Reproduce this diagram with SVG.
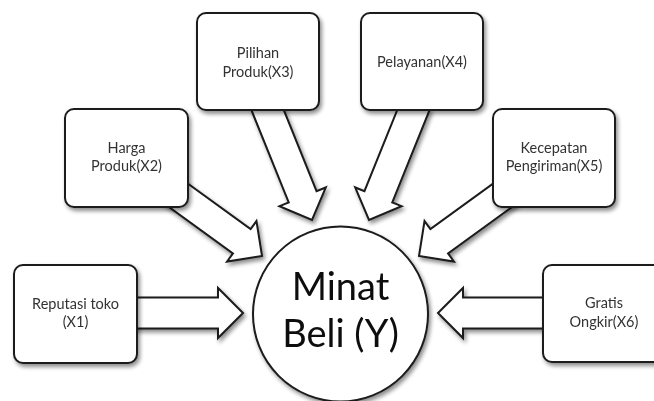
<svg xmlns="http://www.w3.org/2000/svg" width="654" height="401" viewBox="0 0 654 401">
  <defs>
    <filter id="sh" x="-20%" y="-20%" width="140%" height="140%">
      <feGaussianBlur in="SourceAlpha" stdDeviation="2"/>
      <feOffset dx="1.5" dy="2.5" result="b"/>
      <feComponentTransfer><feFuncA type="linear" slope="0.45"/></feComponentTransfer>
      <feMerge><feMergeNode/><feMergeNode in="SourceGraphic"/></feMerge>
    </filter>
  </defs>
  <style>
    .box { fill: #ffffff; stroke: #1a1a1a; stroke-width: 2; }
    .arr { fill: #ffffff; stroke: #1a1a1a; stroke-width: 2; stroke-linejoin: miter; }
    .lbl { font-family: Lato, "Open Sans", sans-serif; font-size: 14.5px; fill: #333333; text-anchor: middle; }
    .big { font-family: Lato, "Open Sans", sans-serif; font-size: 38px; fill: #111111; text-anchor: middle; }
  </style>
  <rect width="654" height="401" fill="#ffffff"/>
  <g id="connectors" filter="url(#sh)">
    <polygon class="arr" transform="translate(243,313) rotate(0)" points="-110,-15.5 -25,-15.5 -25,-25 0,0 -25,25 -25,15.5 -110,15.5"/>
    <polygon class="arr" transform="translate(262,256) rotate(36)" points="-110,-15 -25,-15 -25,-25 0,0 -25,25 -25,15 -110,15"/>
    <polygon class="arr" transform="translate(312,220) rotate(68)" points="-125,-15 -25,-15 -25,-25 0,0 -25,25 -25,15 -125,15"/>
    <polygon class="arr" transform="translate(369,220) rotate(112)" points="-125,-15 -25,-15 -25,-25 0,0 -25,25 -25,15 -125,15"/>
    <polygon class="arr" transform="translate(419,256) rotate(144)" points="-110,-15 -25,-15 -25,-25 0,0 -25,25 -25,15 -110,15"/>
    <polygon class="arr" transform="translate(438,313) rotate(180)" points="-110,-15.5 -25,-15.5 -25,-25 0,0 -25,25 -25,15.5 -110,15.5"/>
  </g>
  <g id="x1" filter="url(#sh)">
    <rect class="box" x="14" y="265" width="123" height="98" rx="9"/>
    <text class="lbl" x="75.5" y="309">Reputasi toko</text>
    <text class="lbl" x="75.5" y="327">(X1)</text>
  </g>
  <g id="x2" filter="url(#sh)">
    <rect class="box" x="65" y="109" width="123" height="98" rx="9"/>
    <text class="lbl" x="126.5" y="153">Harga</text>
    <text class="lbl" x="126.5" y="171">Produk(X2)</text>
  </g>
  <g id="x3" filter="url(#sh)">
    <rect class="box" x="197" y="13" width="122" height="97" rx="9"/>
    <text class="lbl" x="258" y="58">Pilihan</text>
    <text class="lbl" x="258" y="77">Produk(X3)</text>
  </g>
  <g id="x4" filter="url(#sh)">
    <rect class="box" x="361" y="13" width="122" height="97" rx="9"/>
    <text class="lbl" x="422" y="67">Pelayanan(X4)</text>
  </g>
  <g id="x5" filter="url(#sh)">
    <rect class="box" x="493" y="109" width="122" height="98" rx="9"/>
    <text class="lbl" x="554" y="153">Kecepatan</text>
    <text class="lbl" x="554" y="171">Pengiriman(X5)</text>
  </g>
  <g id="x6" filter="url(#sh)">
    <rect class="box" x="543" y="265" width="123" height="97" rx="9"/>
    <text class="lbl" x="604" y="308">Gratis</text>
    <text class="lbl" x="604" y="327">Ongkir(X6)</text>
  </g>
  <g id="y" filter="url(#sh)">
    <circle class="box" cx="340.5" cy="314" r="87.5"/>
    <text class="big" x="340.5" y="300">Minat</text>
    <text class="big" x="340.5" y="347">Beli (Y)</text>
  </g>
</svg>
